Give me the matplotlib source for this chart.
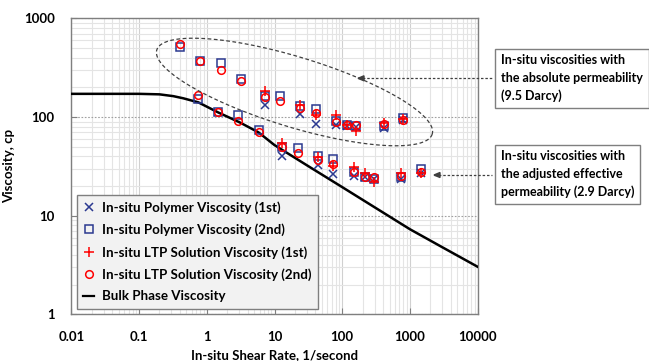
import numpy as np
import matplotlib
matplotlib.use("Agg")
import matplotlib.pyplot as plt
from matplotlib.lines import Line2D

plt.rcParams['font.family'] = ['Lato', 'DejaVu Sans']
plt.rcParams['font.weight'] = 'bold'

# 2nd run (squares / circles), both permeability groups
rate2_abs = [0.40, 0.80, 1.6, 3.2, 7.3, 12.1, 24, 40.7, 80, 119, 160, 408, 803]
poly2_abs = [515, 369, 350, 243, 163, 163, 129, 122, 92, 83, 81, 82, 99]
ltp2_abs = [546, 369, 299, 232, 160, 145, 125, 111, 90, 83, 83, 85, 93]

rate2_adj = [0.73, 1.45, 2.93, 5.85, 12.9, 21.9, 43.6, 72.6, 148, 218, 296, 733, 1462]
poly2_adj = [152, 112, 105, 74, 50, 49, 40.3, 37.2, 27.5, 24.8, 23.4, 24.7, 29.9]
ltp2_adj = [167, 112, 92, 70, 49.5, 43.5, 36.7, 33.2, 27.5, 24.8, 24.5, 25.2, 27.9]

# 1st run (crosses / pluses)
rate1_abs = [7.3, 24, 40.7, 80, 119, 160, 408, 803]
poly1_abs = [132, 107, 86, 83, 81, 78.7, 78, 93]
ltp1_abs = [185, 132, 105, 105, 83, 72.6, 86.5, 95]

rate1_adj = [12.9, 43.6, 72.6, 148, 218, 296, 733, 1462]
poly1_adj = [40.7, 32.7, 26.4, 25.2, 24.6, 23.4, 23.4, 26.9]
ltp1_adj = [55, 39, 32.2, 31.3, 26.9, 22.1, 26.9, 27.3]

# bulk phase viscosity curve
bulk_rate = [0.01, 0.1, 0.2, 0.32, 0.45, 0.75, 1.45, 3.1, 5.8, 10, 30, 100, 300, 1000, 3000, 10000]
bulk_visc = [172, 172, 170, 163, 155, 141, 112, 88, 70, 52, 32.5, 19.5, 12.2, 7.3, 4.8, 3.04]

navy = '#2b3990'
red = '#ff0000'

fig = plt.figure(figsize=(6.49, 3.61), dpi=100)
ax = fig.add_axes([0.11, 0.129, 0.626, 0.82])

ax.plot(bulk_rate, bulk_visc, color='black', lw=1.8, zorder=3)

ms = 5.5
for r, v in [(rate1_abs, poly1_abs), (rate1_adj, poly1_adj)]:
    ax.plot(r, v, 'x', color=navy, ms=ms, mew=1.1, ls='none', zorder=4)
for r, v in [(rate2_abs, poly2_abs), (rate2_adj, poly2_adj)]:
    ax.plot(r, v, 's', mfc='none', mec=navy, ms=ms, mew=1.1, ls='none', zorder=4)
for r, v in [(rate1_abs, ltp1_abs), (rate1_adj, ltp1_adj)]:
    ax.plot(r, v, '+', color=red, ms=ms + 2, mew=1.1, ls='none', zorder=5)
for r, v in [(rate2_abs, ltp2_abs), (rate2_adj, ltp2_adj)]:
    ax.plot(r, v, 'o', mfc='none', mec=red, ms=ms, mew=1.1, ls='none', zorder=5)

ax.set_xscale('log')
ax.set_yscale('log')
ax.set_xlim(0.01, 10000)
ax.set_ylim(1, 1000)
ax.set_xticks([0.01, 0.1, 1, 10, 100, 1000, 10000])
ax.set_xticklabels(['0.01', '0.1', '1', '10', '100', '1000', '10000'])
ax.set_yticks([1, 10, 100, 1000])
ax.set_yticklabels(['1', '10', '100', '1000'])
ax.tick_params(which='major', direction='in', length=4, color='#808080',
               labelsize=9.5, pad=12)
ax.tick_params(which='minor', length=0)

ax.grid(which='minor', color='#e4e4e4', lw=0.8)
ax.grid(which='major', axis='x', color='#d0d0d0', lw=0.8)
ax.grid(which='major', axis='y', color='#a0a0a0', lw=0.8, ls=(0, (1.5, 1.5)))
ax.set_axisbelow(True)
for s in ax.spines.values():
    s.set_color('#7f7f7f')
    s.set_linewidth(1.0)

ax.set_xlabel('In-situ Shear Rate, 1/second', fontsize=9.5, fontweight='bold', labelpad=4)
ax.set_ylabel('Viscosity, cp', fontsize=9.5, fontweight='bold', labelpad=6)

handles = [
    Line2D([], [], marker='x', color=navy, ls='none', ms=ms, mew=1.1),
    Line2D([], [], marker='s', mfc='none', mec=navy, ls='none', ms=ms, mew=1.1),
    Line2D([], [], marker='+', color=red, ls='none', ms=ms + 2, mew=1.1),
    Line2D([], [], marker='o', mfc='none', mec=red, ls='none', ms=ms, mew=1.1),
    Line2D([], [], color='black', lw=1.6),
]
labels = ['In-situ Polymer Viscosity (1st)', 'In-situ Polymer Viscosity (2nd)',
          'In-situ LTP Solution Viscosity (1st)', 'In-situ LTP Solution Viscosity (2nd)',
          'Bulk Phase Viscosity']
leg = ax.legend(handles, labels, loc='lower left', bbox_to_anchor=(0.013, 0.018),
                borderaxespad=0, frameon=True, fancybox=False,
                handlelength=0.8, handletextpad=0.6, labelspacing=0.72,
                borderpad=0.5, prop={'weight': 'bold', 'size': 9.6})
leg.get_frame().set_facecolor('#f2f2f2')
leg.get_frame().set_edgecolor('#7f7f7f')
leg.get_frame().set_alpha(1)
leg.set_zorder(6)

# dashed ellipse around the absolute-permeability group (pixel geometry)
W, H = 649, 361
cx, cy, a, b, ang = 294.5, 92, 144, 35, np.deg2rad(17)
t = np.linspace(0, 2 * np.pi, 200)
ex = cx + a * np.cos(t) * np.cos(ang) - b * np.sin(t) * np.sin(ang)
ey = cy + a * np.cos(t) * np.sin(ang) + b * np.sin(t) * np.cos(ang)
fig.add_artist(Line2D(ex / W, 1 - ey / H, color='#404040', lw=0.9,
                      ls=(0, (3, 2)), transform=fig.transFigure))

# annotation boxes with dashed arrows
notes = [
    ('In-situ viscosities with\nthe absolute permeability\n(9.5 Darcy)', 495, 46, 110, 358, 78.3),
    ('In-situ viscosities with\nthe adjusted effective\npermeability (2.9 Darcy)', 495, 143, 205, 434, 175),
]
for txt, x0, y0, y1, ax_x, ay in notes:
    fig.text((x0 + 6) / W, 1 - (y0 + y1) / 2 / H, txt, fontsize=9, fontweight='bold',
             va='center', ha='left', linespacing=1.55,
             bbox=dict(boxstyle='square,pad=0.45', fc='white', ec='#7f7f7f', lw=1.0))
    fig.add_artist(Line2D([ax_x / W, (x0 - 3) / W], [1 - ay / H, 1 - ay / H],
                          color='#404040', lw=0.9, ls=(0, (2, 1.5)),
                          transform=fig.transFigure))
    fig.add_artist(plt.Polygon([[ax_x / W, 1 - ay / H],
                                [(ax_x + 6) / W, 1 - (ay - 2.5) / H],
                                [(ax_x + 6) / W, 1 - (ay + 2.5) / H]],
                               closed=True, color='#404040',
                               transform=fig.transFigure))

fig.savefig('out.png', dpi=100)
